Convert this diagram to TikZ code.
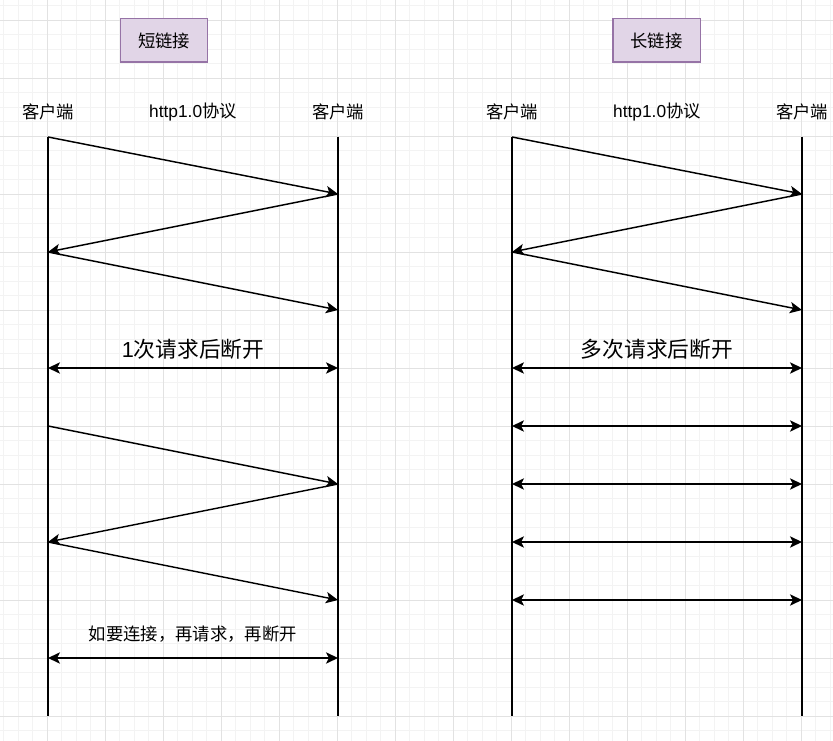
\documentclass[tikz,border=0pt]{standalone}
\usepackage{fontspec}
\setmainfont{Liberation Sans}
\newfontfamily\cjk{Noto Sans CJK SC}
\usetikzlibrary{arrows.meta}
\definecolor{gridminor}{HTML}{F3F3F3}
\definecolor{gridmajor}{HTML}{E2E2E2}
\definecolor{boxfill}{HTML}{E1D5E7}
\definecolor{boxdraw}{HTML}{9673A6}
\tikzset{
  gmin/.style={draw=gridminor, line width=0.75pt},
  gmaj/.style={draw=gridmajor, line width=0.75pt},
  life/.style={draw=black, line width=1.1pt},
  msg/.style={draw=black, line width=1.1pt, -{Stealth[length=9pt,width=8.5pt,inset=2.2pt]}},
  dmsg/.style={draw=black, line width=1.1pt, {Stealth[length=9pt,width=8.5pt,inset=2.2pt]}-{Stealth[length=9pt,width=8.5pt,inset=2.2pt]}},
  lbl/.style={inner sep=0pt, font=\fontsize{13}{15}\selectfont},
  biglbl/.style={inner sep=0pt, font=\fontsize{16.3}{19}\selectfont},
  titlebox/.style={draw=boxdraw, fill=boxfill, line width=1.1pt, minimum width=65.6pt, minimum height=32.6pt, inner sep=0pt, font=\fontsize{13}{15}\selectfont}
}
\begin{document}
\begin{tikzpicture}[x=0.75pt,y=-0.75pt]
\useasboundingbox (0,0) rectangle (833,741);
\fill[white] (0,0) rectangle (833,741);
% grid
\foreach \i in {0,...,57} {\draw[gmin] ({3.8+14.5*\i},0) -- ({3.8+14.5*\i},741);}
\foreach \i in {0,...,51} {\draw[gmin] (0,{5.7+14.5*\i}) -- (833,{5.7+14.5*\i});}
\foreach \i in {0,...,14} {\draw[gmaj] ({47.3+58*\i},0) -- ({47.3+58*\i},741);}
\foreach \i in {0,...,12} {\draw[gmaj] (0,{20.2+58*\i}) -- (833,{20.2+58*\i});}

% titles
\node[titlebox] (t1) at (164,40.5) {\cjk 短链接};
\node[titlebox] (t2) at (656.5,40.5) {\cjk 长链接};

% header labels
\node[lbl] (h1) at (48,112) {\cjk 客户端};
\node[lbl] (h2) at (193,112) {http1.0{\cjk 协议}};
\node[lbl] (h3) at (338,112) {\cjk 客户端};
\node[lbl] (h4) at (512,112) {\cjk 客户端};
\node[lbl] (h5) at (657,112) {http1.0{\cjk 协议}};
\node[lbl] (h6) at (802,112) {\cjk 客户端};

% lifelines
\coordinate (A0) at (48,137);  \coordinate (A9) at (48,716);
\coordinate (B0) at (338,137); \coordinate (B9) at (338,716);
\coordinate (C0) at (512,137); \coordinate (C9) at (512,716);
\coordinate (D0) at (802,137); \coordinate (D9) at (802,716);
\draw[life] (A0) -- (A9);
\draw[life] (B0) -- (B9);
\draw[life] (C0) -- (C9);
\draw[life] (D0) -- (D9);

% left zigzags
\coordinate (A2) at (48,252);  \coordinate (B1) at (338,194); \coordinate (B3) at (338,310);
\coordinate (A4) at (48,368);  \coordinate (B4) at (338,368);
\coordinate (A5) at (48,426);  \coordinate (B6) at (338,484);
\coordinate (A7) at (48,542);  \coordinate (B8) at (338,600);
\coordinate (AA) at (48,658);  \coordinate (BA) at (338,658);
\draw[msg] (A0) -- (B1);
\draw[msg] (B1) -- (A2);
\draw[msg] (A2) -- (B3);
\draw[dmsg] (A4) -- (B4);
\draw[msg] (A5) -- (B6);
\draw[msg] (B6) -- (A7);
\draw[msg] (A7) -- (B8);
\draw[dmsg] (AA) -- (BA);
\node[biglbl] (m1) at (193,349) {1{\cjk 次请求后断开}};
\node[lbl] (m2) at (193,634) {\cjk 如要连接，再请求，再断开};

% right zigzag
\coordinate (C2) at (512,252); \coordinate (D1) at (802,194); \coordinate (D3) at (802,310);
\draw[msg] (C0) -- (D1);
\draw[msg] (D1) -- (C2);
\draw[msg] (C2) -- (D3);
\foreach \y/\n in {368/a,426/b,484/c,542/d,600/e} {
  \coordinate (CL\n) at (512,\y);
  \coordinate (DR\n) at (802,\y);
  \draw[dmsg] (CL\n) -- (DR\n);
}
\node[biglbl] (m3) at (657,349) {\cjk 多次请求后断开};
\end{tikzpicture}
\end{document}
